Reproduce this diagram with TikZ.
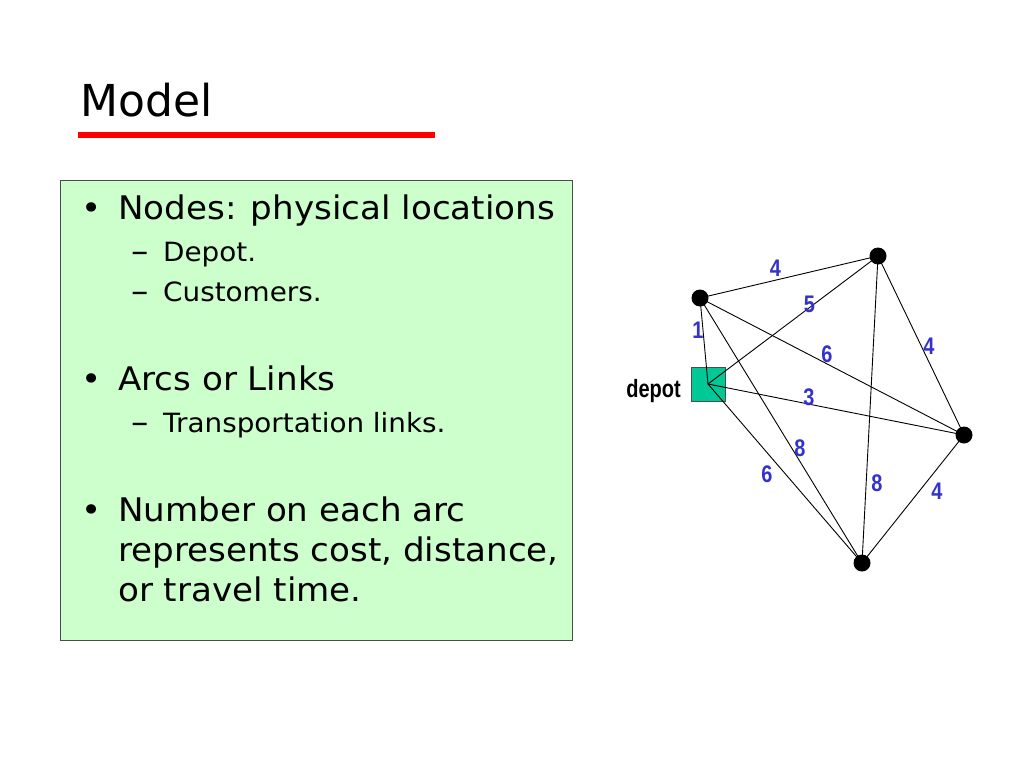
\documentclass[tikz,border=0pt]{standalone}
\usepackage{fontspec}
\setmainfont{DejaVu Sans}
\newfontfamily\wide[FakeStretch=1.05]{DejaVu Sans}
\newfontfamily\labfont[FakeStretch=0.83]{Liberation Sans}
\newfontfamily\deplabfont[FakeStretch=0.8]{Liberation Sans}
\definecolor{boxgreen}{HTML}{CCFFCC}
\definecolor{depotgreen}{HTML}{00C896}
\definecolor{labblue}{HTML}{3333CC}
\begin{document}
\begin{tikzpicture}[x=1pt,y=-1pt,
  txt/.style={anchor=base west,inner sep=0pt},
  dashmark/.style={anchor=base west,inner sep=0pt,font=\wide\fontsize{33}{36}\selectfont},
  cust/.style={circle,fill=black,minimum size=17pt,inner sep=0pt},
  edgelab/.style={font=\labfont\bfseries\fontsize{24}{26}\selectfont,text=labblue,inner sep=0pt},
  arc/.style={draw=black,line width=0.9pt}]
\useasboundingbox[fill=white] (0,0) rectangle (1024,768);
% title
\node[txt,font=\fontsize{44}{50}\selectfont] (title) at (80,116) {Model};
\draw[red,line width=6pt] (78,135) -- (435,135);
% box
\draw[fill=boxgreen,draw=black!70,line width=0.8pt] (60,180) rectangle (572,640);
\begin{scope}[font=\wide\fontsize{32.5}{36}\selectfont]
\node[txt] (b1) at (81,219) {\textbullet};
\node[txt] (t1) at (118,219) {Nodes: physical locations};
\node[txt] (b2) at (81,390) {\textbullet};
\node[txt] (t2) at (118,390) {Arcs or Links};
\node[txt] (b3) at (81,521) {\textbullet};
\node[txt] (t3) at (118,521) {Number on each arc};
\node[txt] (t4) at (118,561) {represents cost, distance,};
\node[txt] (t5) at (118,601) {or travel time.};
\end{scope}
\begin{scope}[font=\wide\fontsize{26.5}{30}\selectfont]
\node[dashmark] (d1) at (131,262) {–};
\node[txt] (s1) at (163,261) {Depot.};
\node[dashmark] (d2) at (131,302) {–};
\node[txt] (s2) at (163,301) {Customers.};
\node[dashmark] (d3) at (131,433) {–};
\node[txt] (s3) at (163,432) {Transportation links.};
\end{scope}
% graph
\node[draw=black!70,fill=depotgreen,minimum size=34pt,inner sep=0pt,line width=0.8pt] (dep) at (708,384) {};
\node[anchor=base east,font=\deplabfont\bfseries\fontsize{25}{27}\selectfont,inner sep=0pt] (deplab) at (681,397) {depot};
\node[cust] (A) at (700,298) {};
\node[cust] (B) at (878,256) {};
\node[cust] (C) at (964,435) {};
\node[cust] (D) at (862,563) {};
\draw[arc] (A.center) -- (B.center);
\draw[arc] (dep.center) -- (B.center);
\draw[arc] (A.center) -- (dep.center);
\draw[arc] (A.center) -- (C.center);
\draw[arc] (B.center) -- (C.center);
\draw[arc] (dep.center) -- (C.center);
\draw[arc] (A.center) -- (D.center);
\draw[arc] (dep.center) -- (D.center);
\draw[arc] (B.center) -- (D.center);
\draw[arc] (C.center) -- (D.center);
\node[edgelab] (l1) at (775.5,268.5) {4};
\node[edgelab] (l2) at (809.5,304) {5};
\node[edgelab] (l3) at (698,330) {1};
\node[edgelab] (l4) at (827,354) {6};
\node[edgelab] (l5) at (929,346) {4};
\node[edgelab] (l6) at (809,397) {3};
\node[edgelab] (l7) at (800,448) {8};
\node[edgelab] (l8) at (767,474) {6};
\node[edgelab] (l9) at (877,483) {8};
\node[edgelab] (l10) at (937,491) {4};
\end{tikzpicture}
\end{document}
